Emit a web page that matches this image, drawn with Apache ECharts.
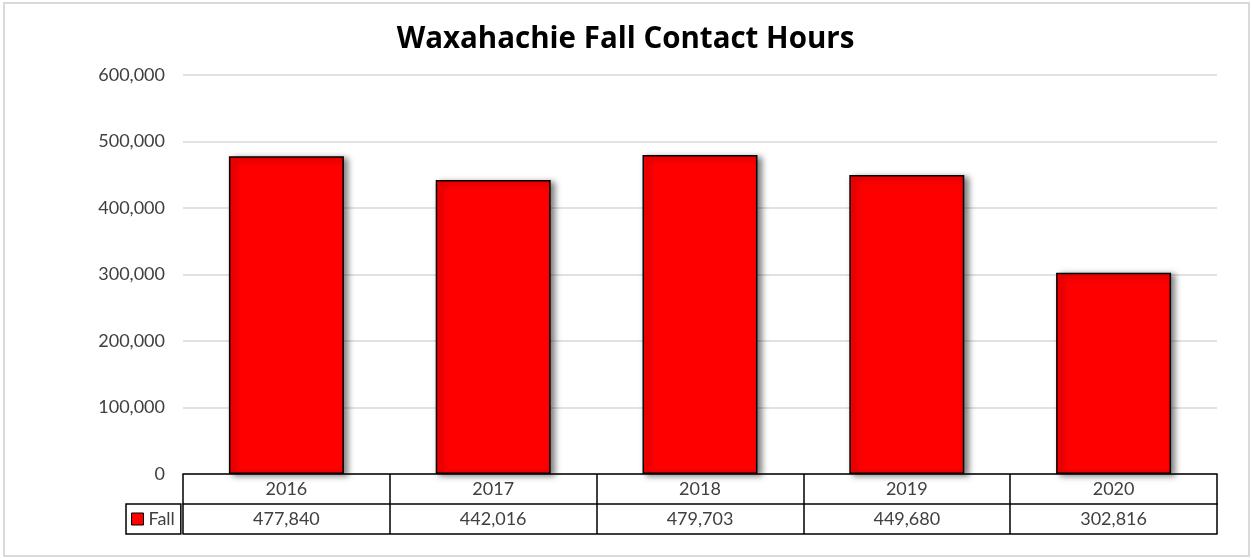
<!DOCTYPE html>
<html>
<head>
<meta charset="utf-8">
<script src="https://cdn.jsdelivr.net/npm/echarts@6/dist/echarts.min.js"></script>
<style>
html,body{margin:0;padding:0;background:#fff;}
#chart{width:1251px;height:558px;position:absolute;left:0;top:0;}
#frame{position:absolute;left:3px;top:2px;width:1243px;height:551px;border:2px solid #d9d9d9;pointer-events:none;}
</style>
</head>
<body>
<div id="chart"></div>
<div id="frame"></div>
<script>
const categories = ['2016', '2017', '2018', '2019', '2020'];
const fallValues = [477840, 442016, 479703, 449680, 302816];
const yTicks = [0, 100000, 200000, 300000, 400000, 500000, 600000];
const titleText = 'Waxahachie Fall Contact Hours';
const seriesName = 'Fall';

const fmt = v => Number(v).toLocaleString('en-US');
const FONT = 'Lato';

const chart = echarts.init(document.getElementById('chart'), null, {renderer: 'canvas'});
chart.setOption({
  animation: false,
  backgroundColor: '#fff',
  title: {
    text: titleText,
    left: 'center',
    top: 20,
    textStyle: {fontFamily: 'Open Sans', fontWeight: 'bold', fontSize: 29.5, color: '#000'}
  },
  legend: {
    data: [seriesName],
    left: 126,
    top: 504,
    orient: 'horizontal',
    itemWidth: 12,
    itemHeight: 12,
    padding: [6, 6, 6, 5],
    borderColor: '#000',
    borderWidth: 1.5,
    icon: 'rect',
    itemStyle: {color: '#ff0000', borderColor: '#000', borderWidth: 1, shadowBlur: 0, shadowOffsetX: 0, shadowOffsetY: 0},
    textStyle: {fontFamily: FONT, fontSize: 18, color: '#404040', padding: [0, 0, 0, 0]}
  },
  grid: {left: 183, right: 34, top: 75, bottom: 84, containLabel: false},
  yAxis: {
    type: 'value',
    min: yTicks[0],
    max: yTicks[yTicks.length - 1],
    interval: yTicks[1] - yTicks[0],
    axisLine: {show: false},
    axisTick: {show: false},
    splitLine: {lineStyle: {color: '#d9d9d9', width: 1.5}},
    axisLabel: {formatter: fmt, fontFamily: FONT, fontSize: 18, color: '#404040', margin: 18}
  },
  xAxis: [
    {
      type: 'category',
      data: categories,
      position: 'bottom',
      axisLine: {lineStyle: {color: '#000', width: 1.5}},
      axisTick: {show: true, interval: 0, length: 60, lineStyle: {color: '#000', width: 1.5}},
      axisLabel: {fontFamily: FONT, fontSize: 18, color: '#404040', margin: 6, interval: 0}
    },
    {
      type: 'category',
      data: categories,
      position: 'bottom',
      offset: 30,
      axisLine: {lineStyle: {color: '#000', width: 1.5}},
      axisTick: {show: false},
      axisLabel: {
        fontFamily: FONT, fontSize: 18, color: '#404040', margin: 6, interval: 0,
        formatter: (v, i) => fmt(fallValues[i])
      }
    },
    {
      type: 'category',
      data: categories,
      position: 'bottom',
      offset: 60,
      axisLine: {lineStyle: {color: '#000', width: 1.5}},
      axisTick: {show: false},
      axisLabel: {show: false}
    }
  ],
  series: [{
    name: seriesName,
    type: 'bar',
    xAxisIndex: 0,
    data: fallValues,
    barWidth: '55.6%',
    itemStyle: {
      color: '#ff0000',
      borderColor: '#000',
      borderWidth: 1.5,
      shadowColor: 'rgba(0,0,0,0.5)',
      shadowBlur: 6,
      shadowOffsetX: 4,
      shadowOffsetY: 2
    }
  }]
});
</script>
</body>
</html>
